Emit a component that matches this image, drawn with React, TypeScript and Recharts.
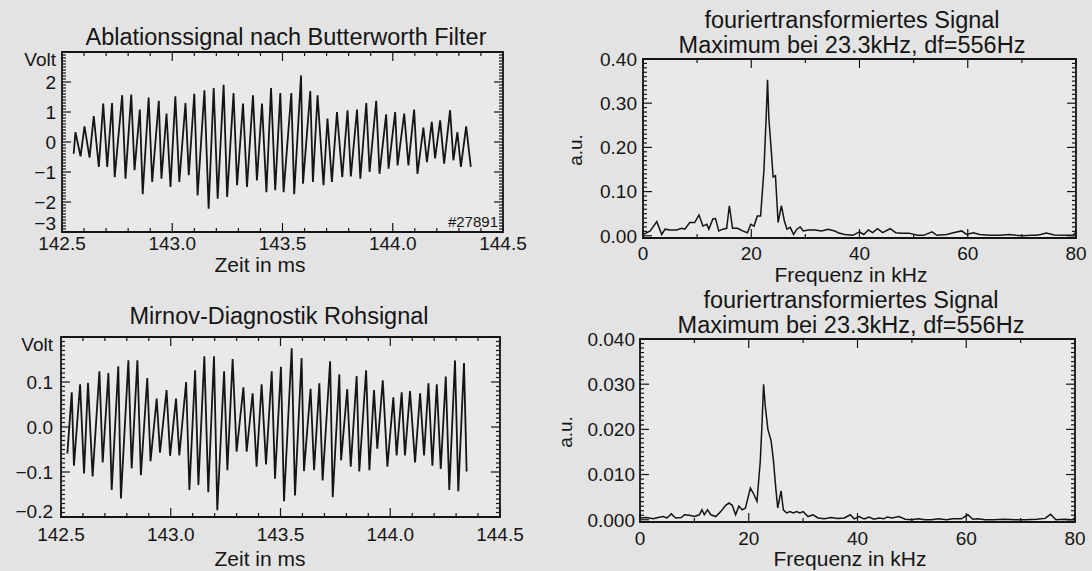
import { LineChart, Line, XAxis, YAxis, CartesianGrid, ReferenceArea } from 'recharts';

// Ablationssignal nach Butterworth Filter (time in ms, Volt)
const ablTime = [
  142.553, 142.561, 142.584, 142.602, 142.625, 142.644, 142.667, 142.687, 142.705, 142.727,
  142.739, 142.773, 142.788, 142.814, 142.829, 142.853, 142.866, 142.893, 142.909, 142.939,
  142.951, 142.974, 142.992, 143.014, 143.032, 143.06, 143.075, 143.1, 143.115, 143.146,
  143.165, 143.188, 143.206, 143.233, 143.249, 143.278, 143.294, 143.321, 143.339, 143.366,
  143.384, 143.407, 143.427, 143.448, 143.467, 143.49, 143.505, 143.54, 143.553, 143.584,
  143.593, 143.626, 143.638, 143.659, 143.686, 143.704, 143.724, 143.747, 143.771, 143.795,
  143.81, 143.838, 143.853, 143.88, 143.895, 143.925, 143.94, 143.97, 143.981, 144.011,
  144.022, 144.052, 144.071, 144.097, 144.112, 144.139, 144.155, 144.177, 144.192, 144.215,
  144.233, 144.26, 144.275, 144.293, 144.309, 144.333, 144.354,
];
const ablVolt = [
  -0.39, 0.33, -0.48, 0.52, -0.52, 0.86, -0.83, 1.28, -0.83, 1.3,
  -1.17, 1.56, -1.22, 1.58, -0.94, 1.08, -1.74, 1.48, -1.33, 1.37,
  -1.22, 0.95, -1.5, 1.52, -1.33, 1.3, -1.11, 1.61, -1.78, 1.72,
  -2.22, 1.8, -1.89, 1.91, -1.83, 1.63, -1.44, 1.28, -1.5, 1.56,
  -1.28, 1.28, -1.67, 1.8, -1.61, 1.63, -1.67, 1.63, -1.74, 2.22,
  -1.39, 1.7, -1.33, 1.56, -1.44, 0.78, -1.33, 1.0, -1.17, 1.06,
  -1.15, 1.08, -1.22, 1.3, -1.0, 1.37, -1.06, 0.92, -0.89, 1.0,
  -0.78, 0.95, -0.78, 1.08, -1.06, 0.48, -0.67, 0.67, -0.55, 0.72,
  -0.72, 1.06, -0.61, 0.33, -0.83, 0.52, -0.83,
];

// Mirnov-Diagnostik Rohsignal
const mirTime = [
  142.529, 142.549, 142.559, 142.587, 142.605, 142.623, 142.644, 142.675, 142.69, 142.716,
  142.731, 142.761, 142.773, 142.807, 142.822, 142.848, 142.864, 142.893, 142.908, 142.936,
  142.951, 142.981, 142.997, 143.024, 143.039, 143.07, 143.085, 143.111, 143.126, 143.153,
  143.171, 143.197, 143.212, 143.243, 143.258, 143.282, 143.3, 143.331, 143.346, 143.373,
  143.391, 143.414, 143.434, 143.46, 143.475, 143.502, 143.516, 143.551, 143.566, 143.596,
  143.607, 143.637, 143.653, 143.677, 143.692, 143.726, 143.738, 143.768, 143.776, 143.804,
  143.82, 143.847, 143.859, 143.89, 143.905, 143.926, 143.941, 143.966, 143.987, 144.014,
  144.029, 144.052, 144.067, 144.09, 144.113, 144.136, 144.154, 144.174, 144.192, 144.212,
  144.23, 144.253, 144.269, 144.295, 144.31, 144.336, 144.348,
];
const mirVolt = [
  -0.059, 0.077, -0.086, 0.095, -0.103, 0.098, -0.11, 0.124, -0.079, 0.12,
  -0.14, 0.135, -0.159, 0.148, -0.092, 0.148, -0.107, 0.109, -0.076, 0.063,
  -0.057, 0.082, -0.064, 0.063, -0.063, 0.1, -0.14, 0.126, -0.129, 0.157,
  -0.145, 0.157, -0.185, 0.124, -0.096, 0.151, -0.055, 0.088, -0.055, 0.075,
  -0.088, 0.095, -0.083, 0.124, -0.115, 0.134, -0.165, 0.175, -0.152, 0.153,
  -0.098, 0.085, -0.096, 0.097, -0.119, 0.146, -0.156, 0.117, -0.074, 0.084,
  -0.088, 0.113, -0.099, 0.126, -0.096, 0.082, -0.048, 0.104, -0.088, 0.066,
  -0.063, 0.077, -0.063, 0.08, -0.079, 0.075, -0.063, 0.097, -0.086, 0.095,
  -0.093, 0.112, -0.14, 0.148, -0.143, 0.142, -0.099,
];

// fouriertransformiertes Signal (Ablation), kHz / a.u.
const fftAblFreq = [
  0, 1.33, 2.55, 3.46, 4.07, 4.99, 6.2, 7.12, 7.73, 8.64,
  9.55, 10.34, 11.07, 11.8, 12.17, 12.9, 13.39, 14.0, 14.73, 15.46,
  15.95, 16.55, 17.47, 18.38, 19.29, 19.9, 20.51, 21.12, 21.73, 22.34,
  22.76, 23.01, 23.25, 23.74, 24.04, 24.47, 24.96, 25.57, 26.11, 26.6,
  27.21, 27.82, 28.43, 29.04, 29.64, 30.56, 31.78, 32.99, 34.21, 35.43,
  36.04, 37.25, 38.78, 39.99, 40.79, 41.64, 42.43, 43.34, 44.26, 45.66,
  46.69, 47.91, 49.13, 50.65, 51.87, 53.39, 54.3, 56.13, 57.35, 58.87,
  59.78, 61.0, 62.22, 64.04, 65.87, 67.7, 68.91, 70.13, 71.65, 72.57,
  73.48, 74.5, 76.0, 78.0, 79.5, 80.0,
];
const fftAblAmp = [
  0.003, 0.011, 0.032, 0.003, 0.015, 0.013, 0.013, 0.017, 0.015, 0.03,
  0.03, 0.047, 0.022, 0.026, 0.015, 0.038, 0.039, 0.011, 0.015, 0.017,
  0.068, 0.017, 0.017, 0.011, 0.007, 0.026, 0.022, 0.045, 0.045, 0.148,
  0.269, 0.353, 0.266, 0.186, 0.133, 0.136, 0.03, 0.068, 0.034, 0.015,
  0.019, 0.003, 0.015, 0.02, 0.011, 0.013, 0.013, 0.011, 0.015, 0.011,
  0.007, 0.003, 0.001, 0.009, 0.003, 0.013, 0.007, 0.016, 0.007, 0.016,
  0.007, 0.006, 0.006, 0.001, 0.001, 0.009, 0.001, 0.003, 0.007, 0.011,
  0.003, 0.007, 0.003, 0.001, 0.001, 0.003, 0.001, 0.0, 0.001, 0.001,
  0.003, 0.006, 0.002, 0.001, 0.002, 0.008,
];

// fouriertransformiertes Signal (Mirnov)
const fftMirFreq = [
  0, 1.21, 2.42, 3.33, 4.24, 4.97, 5.76, 6.55, 7.58, 8.18,
  9.09, 10.0, 10.91, 11.39, 11.82, 12.42, 13.03, 13.94, 14.85, 15.76,
  16.36, 16.97, 17.58, 18.18, 18.79, 19.39, 20.3, 20.91, 21.52, 22.12,
  22.42, 22.73, 23.03, 23.52, 24.12, 24.55, 24.97, 25.33, 25.94, 26.36,
  26.97, 27.58, 28.18, 28.79, 29.39, 30.0, 30.91, 31.82, 32.73, 33.94,
  35.15, 36.36, 37.58, 38.67, 39.39, 40.3, 41.21, 42.12, 43.03, 43.94,
  44.85, 45.45, 46.36, 47.58, 48.79, 50.0, 51.21, 52.42, 53.64, 54.85,
  56.36, 57.58, 59.09, 60.3, 61.21, 62.12, 63.5, 65.0, 67.0, 69.0,
  71.0, 73.0, 74.5, 75.5, 76.5, 78.0, 79.5, 80.0,
];
const fftMirAmp = [
  0.0004, 0.0005, 0.0002, 0.0005, 0.0007, 0.0004, 0.0013, 0.0004, 0.0005, 0.0011,
  0.001, 0.0007, 0.0011, 0.0022, 0.0011, 0.0022, 0.0011, 0.0007, 0.0018, 0.0032,
  0.0037, 0.0032, 0.0011, 0.003, 0.0022, 0.0026, 0.007, 0.0057, 0.0041, 0.013,
  0.0207, 0.03, 0.0252, 0.02, 0.0174, 0.013, 0.007, 0.0026, 0.0064, 0.0022,
  0.0015, 0.0018, 0.0015, 0.0018, 0.0015, 0.0018, 0.0007, 0.0011, 0.0004, 0.0002,
  0.0005, 0.0003, 0.0004, 0.0011, 0.0002, 0.0007, 0.0002, 0.0006, 0.0001, 0.0004,
  0.0002, 0.0006, 0.0004, 0.0007, 0.0001, 0.0, 0.0002, 0.0, 0.0, 0.0002,
  0.0, 0.0002, 0.0002, 0.0011, 0.0001, 0.0002, 0.0, 0.0, 0.0001, 0.0,
  0.0, 0.0001, 0.0003, 0.0012, 0.0, 0.0001, 0.0, 0.0004,
];

const timeTicks = [142.5, 143.0, 143.5, 144.0, 144.5];
const freqTicks = [0, 20, 40, 60, 80];
const ablVoltTicks = [-3, -2, -1, 0, 1, 2, 3];
const mirVoltTicks = [-0.2, -0.1, 0, 0.1, 0.2];
const fftAblTicks = [0, 0.1, 0.2, 0.3, 0.4];
const fftMirTicks = [0, 0.01, 0.02, 0.03, 0.04];

const FONT = '"Liberation Sans", Arial, Helvetica, sans-serif';
const INK = '#151515';
const PAPER = '#e3e3e3';
const PLOT_BG = '#e9e9e9';

const YW = 80; // y axis width
const MT = 12;
const MR = 32;
const XH = 50;

const steps = (a: number, b: number, step: number) => {
  const out: number[] = [];
  const n = Math.round((b - a) / step);
  for (let i = 0; i <= n; i++) out.push(+(a + i * step).toFixed(6));
  return out;
};
const near = (list: number[], v: number) => list.some((m) => Math.abs(m - v) < 1e-9);
const minus = (s: string) => s.replace('-', '\u2212');

type Panel = {
  x0: number;
  y0: number;
  w: number;
  h: number;
  xDomain: [number, number];
  yDomain: [number, number];
  xMajor: number[];
  xMinor: number[];
  yMajor: number[];
  yMinor: number[];
  xFmt: (v: number) => string;
  yFmt: (v: number) => string;
  xGap: number;
  yGap: number;
  bottomShift: number;
  xs: number[];
  ys: number[];
  lw: number;
};

function makeYTick(p: Panel) {
  return (props: any) => {
    const { y, payload } = props;
    const v = payload.value as number;
    const major = near(p.yMajor, v);
    const len = major ? 9 : 4;
    const label = major ? p.yFmt(v) : '';
    // top label "Volt" sits a bit lower, the bottom one a bit higher
    let shift = 0;
    if (label === 'Volt') shift = 7;
    else if (v === p.yMajor[0] && p.yDomain[0] === v) shift = p.bottomShift;
    return (
      <g>
        <line x1={YW} x2={YW + len} y1={y} y2={y} stroke={INK} strokeWidth={1.2} />
        <line x1={YW + p.w} x2={YW + p.w - len} y1={y} y2={y} stroke={INK} strokeWidth={1.2} />
        {label && (
          <text x={YW - p.yGap} y={y + shift} dy="0.36em" textAnchor="end" fontFamily={FONT} fontSize={19} fill={INK}>
            {label}
          </text>
        )}
      </g>
    );
  };
}

function makeXTick(p: Panel) {
  return (props: any) => {
    const { x, payload } = props;
    const v = payload.value as number;
    const major = near(p.xMajor, v);
    const len = major ? 9 : 4;
    const base = MT + p.h;
    return (
      <g>
        <line x1={x} x2={x} y1={base} y2={base - len} stroke={INK} strokeWidth={1.2} />
        <line x1={x} x2={x} y1={MT} y2={MT + len} stroke={INK} strokeWidth={1.2} />
        {major && (
          <text x={x} y={base + p.xGap + 13.7} textAnchor="middle" fontFamily={FONT} fontSize={19} fill={INK}>
            {p.xFmt(v)}
          </text>
        )}
      </g>
    );
  };
}

function PanelChart({ p }: { p: Panel }) {
  const data = p.xs.map((x, i) => ({ x, y: p.ys[i] }));
  return (
    <div style={{ position: 'absolute', left: p.x0 - YW, top: p.y0 - MT }}>
      <LineChart
        width={YW + p.w + MR}
        height={MT + p.h + XH}
        data={data}
        margin={{ top: MT, right: MR, bottom: 0, left: 0 }}
      >
        <CartesianGrid horizontal={false} vertical={false} fill={PLOT_BG} />
        <XAxis
          type="number"
          dataKey="x"
          domain={p.xDomain}
          ticks={p.xMinor}
          interval={0}
          allowDataOverflow
          height={XH}
          tickSize={0}
          tickLine={false}
          axisLine={false}
          tick={makeXTick(p)}
        />
        <YAxis
          type="number"
          domain={p.yDomain}
          ticks={p.yMinor}
          interval={0}
          allowDataOverflow
          width={YW}
          tickSize={0}
          tickLine={false}
          axisLine={false}
          tick={makeYTick(p)}
        />
        <ReferenceArea
          x1={p.xDomain[0]}
          x2={p.xDomain[1]}
          y1={p.yDomain[0]}
          y2={p.yDomain[1]}
          fill="none"
          stroke={INK}
          strokeWidth={1.8}
          ifOverflow="visible"
        />
        <Line type="linear" dataKey="y" stroke={INK} strokeWidth={p.lw} dot={false} isAnimationActive={false} />
      </LineChart>
    </div>
  );
}

const timeFmt = (v: number) => v.toFixed(1);
const freqFmt = (v: number) => String(v);

const panels: Panel[] = [
  {
    x0: 62, y0: 52, w: 441, h: 180,
    xDomain: [142.5, 144.5], yDomain: [-3, 3],
    xMajor: timeTicks, xMinor: steps(142.5, 144.5, 0.1),
    yMajor: ablVoltTicks, yMinor: steps(-3, 3, 0.1),
    xFmt: timeFmt, yFmt: (v) => (v === 3 ? 'Volt' : minus(String(v))),
    xGap: 4, yGap: 6, bottomShift: -9, xs: ablTime, ys: ablVolt, lw: 1.8,
  },
  {
    x0: 643, y0: 59, w: 433, h: 179,
    xDomain: [0, 80], yDomain: [-0.005, 0.4],
    xMajor: freqTicks, xMinor: steps(0, 80, 10),
    yMajor: fftAblTicks, yMinor: steps(0, 0.4, 0.01),
    xFmt: freqFmt, yFmt: (v) => v.toFixed(2),
    xGap: 8, yGap: 6, bottomShift: 0, xs: fftAblFreq, ys: fftAblAmp, lw: 1.5,
  },
  {
    x0: 61, y0: 337, w: 439, h: 180,
    xDomain: [142.5, 144.5], yDomain: [-0.2, 0.2],
    xMajor: timeTicks, xMinor: steps(142.5, 144.5, 0.1),
    yMajor: mirVoltTicks, yMinor: steps(-0.2, 0.2, 0.01),
    xFmt: timeFmt, yFmt: (v) => (v === 0.2 ? 'Volt' : minus(v.toFixed(1))),
    xGap: 10, yGap: 8, bottomShift: -6, xs: mirTime, ys: mirVolt, lw: 1.8,
  },
  {
    x0: 640, y0: 339, w: 435, h: 183,
    xDomain: [0, 80], yDomain: [-0.0005, 0.04],
    xMajor: freqTicks, xMinor: steps(0, 80, 10),
    yMajor: fftMirTicks, yMinor: steps(0, 0.04, 0.001),
    xFmt: freqFmt, yFmt: (v) => v.toFixed(3),
    xGap: 9, yGap: 5, bottomShift: 0, xs: fftMirFreq, ys: fftMirAmp, lw: 1.5,
  },
];

function Captions() {
  const t = { fontFamily: FONT, fill: INK, textAnchor: 'middle' as const };
  return (
    <svg width={1092} height={571} style={{ position: 'absolute', left: 0, top: 0, pointerEvents: 'none' }}>
      <text {...t} x={286} y={45} fontSize={23.5}>Ablationssignal nach Butterworth Filter</text>
      <text {...t} x={260} y={272} fontSize={21}>Zeit in ms</text>
      <text x={498} y={227} textAnchor="end" fontFamily={FONT} fontSize={15} fill={INK}>#27891</text>

      <text {...t} x={852} y={28} fontSize={23.5}>fouriertransformiertes Signal</text>
      <text {...t} x={852} y={53} fontSize={23.5}>Maximum bei 23.3kHz, df=556Hz</text>
      <text {...t} x={851} y={282} fontSize={21}>Frequenz in kHz</text>
      <text {...t} x={0} y={0} fontSize={19} transform="translate(582 150) rotate(-90)">a.u.</text>

      <text {...t} x={279} y={324} fontSize={23.5}>Mirnov-Diagnostik Rohsignal</text>
      <text {...t} x={260} y={566} fontSize={21}>Zeit in ms</text>

      <text {...t} x={851} y={308} fontSize={23.5}>fouriertransformiertes Signal</text>
      <text {...t} x={851} y={333} fontSize={23.5}>Maximum bei 23.3kHz, df=556Hz</text>
      <text {...t} x={850} y={566} fontSize={21}>Frequenz in kHz</text>
      <text {...t} x={0} y={0} fontSize={19} transform="translate(572 432) rotate(-90)">a.u.</text>
    </svg>
  );
}

export default function App() {
  return (
    <div style={{ position: 'absolute', left: 0, top: 0, width: 1092, height: 571, background: PAPER, overflow: 'hidden' }}>
      {panels.map((p, i) => (
        <PanelChart key={i} p={p} />
      ))}
      <Captions />
    </div>
  );
}
